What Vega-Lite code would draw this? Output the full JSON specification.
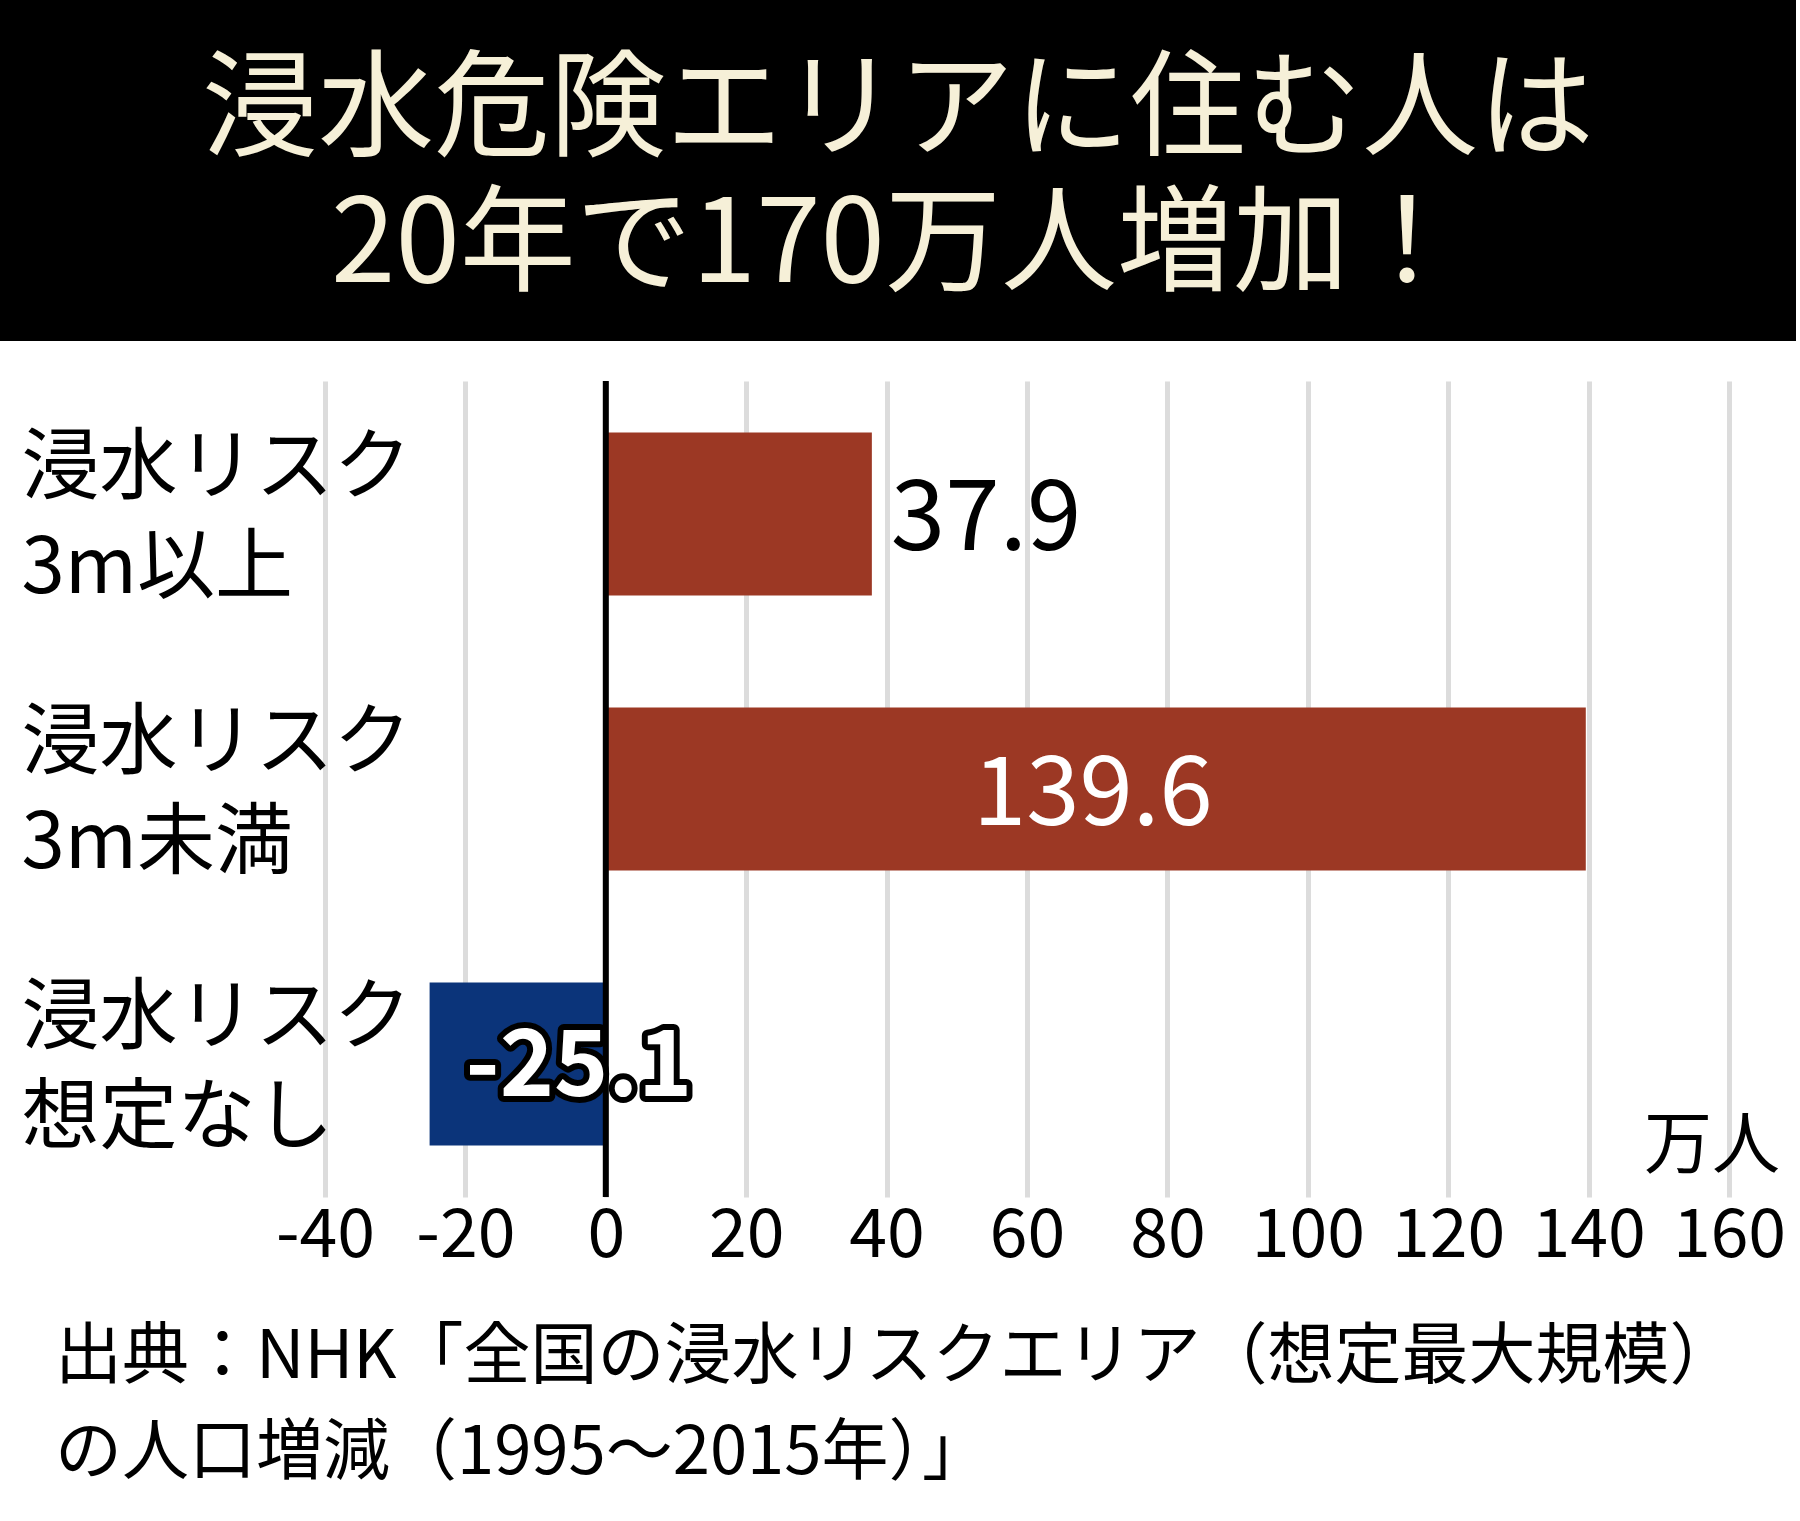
{
  "$schema": "https://vega.github.io/schema/vega-lite/v6.json",
  "padding": 0,
  "background": "white",
  "spacing": 37,
  "config": {"view": {"stroke": null}, "font": "Noto Sans CJK JP"},
  "datasets": {
    "header": [
      {"line": 1, "text": "浸水危険エリアに住む人は"},
      {"line": 2, "text": "20年で170万人増加！"}
    ],
    "bars": [
      {"category": "浸水リスク\n3m以上", "value": 37.9},
      {"category": "浸水リスク\n3m未満", "value": 139.6},
      {"category": "浸水リスク\n想定なし", "value": -25.1}
    ]
  },
  "vconcat": [
    {
      "width": 1796,
      "height": 341,
      "view": {"fill": "black", "stroke": null},
      "data": {"name": "header"},
      "mark": {"type": "text", "color": "#F6F0D8", "fontSize": 116, "baseline": "middle", "font": "Noto Sans CJK JP", "dy": 9},
      "encoding": {
        "y": {"field": "line", "type": "ordinal", "axis": null, "scale": {"type": "point", "padding": 0.772}},
        "text": {"field": "text"}
      }
    },
    {
      "width": 1796,
      "height": 816,
      "title": {
        "text": ["出典：NHK「全国の浸水リスクエリア（想定最大規模）", "の人口増減（1995〜2015年）」"],
        "orient": "bottom",
        "anchor": "start",
        "frame": "bounds",
        "fontSize": 67,
        "fontWeight": "normal",
        "font": "Noto Sans CJK JP",
        "color": "black",
        "lineHeight": 96,
        "dx": 55,
        "offset": 55
      },
      "layer": [
        {
          "data": {"name": "bars"},
          "mark": {"type": "bar"},
          "encoding": {
            "y": {
              "field": "category", "type": "nominal", "sort": null,
              "scale": {"paddingInner": 0.407, "paddingOuter": 0.187},
              "axis": {
                "title": null, "domain": false, "ticks": false, "tickSize": 0, "grid": false,
                "labelAlign": "left", "labelPadding": -21,
                "labelFontSize": 78, "labelLineHeight": 100, "labelBaseline": "middle",
                "labelOffset": -44,
                "labelExpr": "split(datum.label, '\\n')",
                "labelColor": "black", "labelFont": "Noto Sans CJK JP", "labelLimit": 0
              }
            },
            "x": {
              "field": "value", "type": "quantitative",
              "scale": {"domain": [-40, 160], "nice": false, "range": [325, 1729]},
              "axis": {
                "values": [-40, -20, 0, 20, 40, 60, 80, 100, 120, 140, 160],
                "title": null, "domain": false, "ticks": false, "tickSize": 0,
                "grid": true, "gridColor": "#DCDCDC", "gridWidth": 5,
                "labelExpr": "'' + datum.value",
                "labelFontSize": 68, "labelPadding": 5, "labelColor": "black",
                "labelFont": "Noto Sans CJK JP", "labelFlush": false, "labelOverlap": false
              }
            },
            "color": {"condition": {"test": "datum.value < 0", "value": "#0B347A"}, "value": "#9C3824"}
          }
        },
        {
          "data": {"values": [{"zero": 0}]},
          "mark": {"type": "rule", "color": "black", "strokeWidth": 6},
          "encoding": {"x": {"field": "zero", "type": "quantitative"}}
        },
        {
          "data": {"name": "bars"},
          "transform": [{"filter": "datum.value == 37.9"}],
          "mark": {"type": "text", "align": "left", "baseline": "middle", "fontSize": 98, "color": "black", "dx": 19, "dy": 7, "font": "Noto Sans CJK JP"},
          "encoding": {
            "y": {"field": "category", "type": "nominal", "sort": null},
            "x": {"field": "value", "type": "quantitative"},
            "text": {"field": "value", "type": "nominal"}
          }
        },
        {
          "data": {"name": "bars"},
          "transform": [{"filter": "datum.value == 139.6"}],
          "mark": {"type": "text", "align": "right", "baseline": "middle", "fontSize": 96, "color": "white", "dx": -373, "dy": 7, "font": "Noto Sans CJK JP"},
          "encoding": {
            "y": {"field": "category", "type": "nominal", "sort": null},
            "x": {"field": "value", "type": "quantitative"},
            "text": {"field": "value", "type": "nominal"}
          }
        },
        {
          "data": {"name": "bars"},
          "transform": [{"filter": "datum.value < 0"}],
          "mark": {"type": "text", "align": "left", "baseline": "middle", "fontSize": 92, "fontWeight": "bold", "color": "black", "stroke": "black", "strokeWidth": 12, "strokeJoin": "round", "dx": 36, "dy": 4, "font": "Noto Sans CJK JP"},
          "encoding": {
            "y": {"field": "category", "type": "nominal", "sort": null},
            "x": {"field": "value", "type": "quantitative"},
            "text": {"field": "value", "type": "nominal"}
          }
        },
        {
          "data": {"name": "bars"},
          "transform": [{"filter": "datum.value < 0"}],
          "mark": {"type": "text", "align": "left", "baseline": "middle", "fontSize": 92, "fontWeight": "bold", "color": "white", "dx": 36, "dy": 4, "font": "Noto Sans CJK JP"},
          "encoding": {
            "y": {"field": "category", "type": "nominal", "sort": null},
            "x": {"field": "value", "type": "quantitative"},
            "text": {"field": "value", "type": "nominal"}
          }
        },
        {
          "data": {"values": [{"unit": "万人", "pos": 160, "row": "浸水リスク\n想定なし"}]},
          "mark": {"type": "text", "align": "right", "baseline": "middle", "fontSize": 68, "color": "black", "dx": 51, "dy": 84, "font": "Noto Sans CJK JP"},
          "encoding": {
            "y": {"field": "row", "type": "nominal", "sort": null},
            "x": {"field": "pos", "type": "quantitative"},
            "text": {"field": "unit"}
          }
        }
      ]
    }
  ]
}
